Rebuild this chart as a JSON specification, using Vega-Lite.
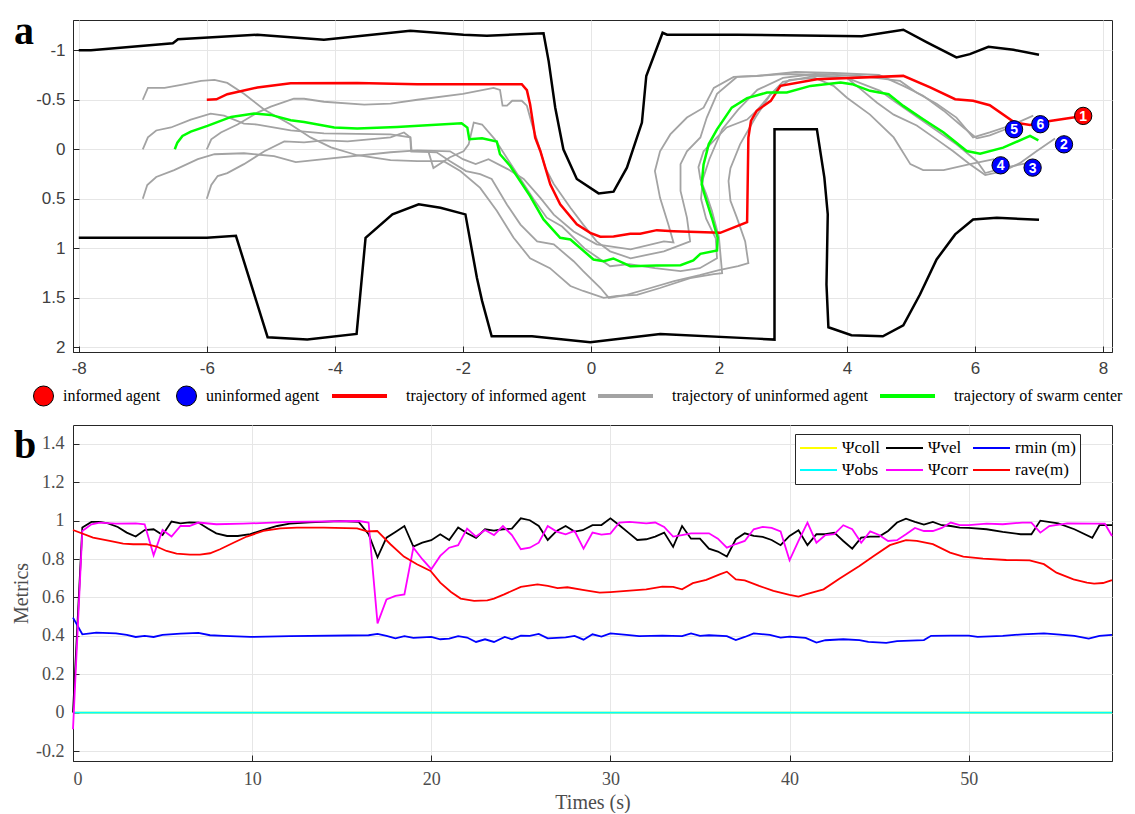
{
  "$schema": "https://vega.github.io/schema/vega-lite/v6.json",
  "background": "white",
  "padding": {"left": 11, "top": 11, "right": 0, "bottom": 0},
  "spacing": 73,
  "bounds": "flush",
  "config": {
    "font": "Liberation Sans",
    "view": {"stroke": "#262626", "strokeWidth": 1}
  },
  "datasets": {
    "walls": [
      {"g":"top","x":-8,"y":-1.0},{"g":"top","x":-7.81,"y":-1.0},{"g":"top","x":-6.53,"y":-1.07},{"g":"top","x":-6.45,"y":-1.11},{"g":"top","x":-5.21,"y":-1.156},{"g":"top","x":-4.17,"y":-1.105},{"g":"top","x":-2.82,"y":-1.197},{"g":"top","x":-1.99,"y":-1.156},{"g":"top","x":-1.625,"y":-1.146},{"g":"top","x":-0.74,"y":-1.17},{"g":"top","x":-0.66,"y":-0.89},{"g":"top","x":-0.557,"y":-0.42},{"g":"top","x":-0.43,"y":0},{"g":"top","x":-0.22,"y":0.3},{"g":"top","x":0.12,"y":0.445},{"g":"top","x":0.354,"y":0.428},{"g":"top","x":0.5625,"y":0.185},{"g":"top","x":0.797,"y":-0.27},{"g":"top","x":0.865,"y":-0.74},{"g":"top","x":1.12,"y":-1.176},{"g":"top","x":1.19,"y":-1.156},{"g":"top","x":2.286,"y":-1.156},{"g":"top","x":4.23,"y":-1.14},{"g":"top","x":4.88,"y":-1.207},{"g":"top","x":5.25,"y":-1.08},{"g":"top","x":5.71,"y":-0.927},{"g":"top","x":5.92,"y":-0.96},{"g":"top","x":6.21,"y":-1.035},{"g":"top","x":6.6,"y":-1.004},{"g":"top","x":7.0,"y":-0.954},
      {"g":"bot","x":-8,"y":0.893},{"g":"bot","x":-6,"y":0.893},{"g":"bot","x":-5.545,"y":0.873},{"g":"bot","x":-5.05,"y":1.897},{"g":"bot","x":-4.43,"y":1.921},{"g":"bot","x":-3.66,"y":1.864},{"g":"bot","x":-3.52,"y":0.893},{"g":"bot","x":-3.1,"y":0.657},{"g":"bot","x":-2.69,"y":0.556},{"g":"bot","x":-2.35,"y":0.59},{"g":"bot","x":-1.96,"y":0.657},{"g":"bot","x":-1.78,"y":1.3},{"g":"bot","x":-1.7,"y":1.53},{"g":"bot","x":-1.55,"y":1.887},{"g":"bot","x":-0.92,"y":1.887},{"g":"bot","x":-0.01,"y":1.948},{"g":"bot","x":1.083,"y":1.864},{"g":"bot","x":2.59,"y":1.911},{"g":"bot","x":2.868,"y":1.921},{"g":"bot","x":2.868,"y":-0.202},{"g":"bot","x":3.53,"y":-0.202},{"g":"bot","x":3.647,"y":0.286},{"g":"bot","x":3.7,"y":0.657},{"g":"bot","x":3.68,"y":1.365},{"g":"bot","x":3.71,"y":1.796},{"g":"bot","x":4.07,"y":1.877},{"g":"bot","x":4.56,"y":1.887},{"g":"bot","x":4.88,"y":1.776},{"g":"bot","x":5.14,"y":1.466},{"g":"bot","x":5.4,"y":1.112},{"g":"bot","x":5.69,"y":0.859},{"g":"bot","x":5.97,"y":0.708},{"g":"bot","x":6.34,"y":0.691},{"g":"bot","x":7.0,"y":0.711}
    ],
    "gray": [
      {"g":"u4","x":-7,"y":-0.5},{"g":"u4","x":-6.92,"y":-0.62},{"g":"u4","x":-6.66,"y":-0.62},{"g":"u4","x":-6.4,"y":-0.65},{"g":"u4","x":-6.09,"y":-0.69},{"g":"u4","x":-5.88,"y":-0.7},{"g":"u4","x":-5.68,"y":-0.67},{"g":"u4","x":-5.42,"y":-0.56},{"g":"u4","x":-5.1,"y":-0.4},{"g":"u4","x":-4.69,"y":-0.25},{"g":"u4","x":-4.38,"y":-0.12},{"g":"u4","x":-4.06,"y":-0.02},{"g":"u4","x":-3.65,"y":0.06},{"g":"u4","x":-3.13,"y":0.11},{"g":"u4","x":-2.71,"y":0.12},{"g":"u4","x":-2.3,"y":0.12},{"g":"u4","x":-2.04,"y":0.22},{"g":"u4","x":-1.73,"y":0.39},{"g":"u4","x":-1.47,"y":0.62},{"g":"u4","x":-1.21,"y":0.89},{"g":"u4","x":-0.95,"y":1.1},{"g":"u4","x":-0.64,"y":1.2},{"g":"u4","x":-0.32,"y":1.38},{"g":"u4","x":-0.12,"y":1.43},{"g":"u4","x":0.2,"y":1.5},{"g":"u4","x":0.41,"y":1.48},{"g":"u4","x":0.72,"y":1.47},{"g":"u4","x":1.08,"y":1.4},{"g":"u4","x":1.55,"y":1.3},{"g":"u4","x":1.92,"y":1.26},{"g":"u4","x":2.05,"y":1.25},{"g":"u4","x":2.0,"y":0.89},{"g":"u4","x":1.89,"y":0.62},{"g":"u4","x":1.8,"y":0.45},{"g":"u4","x":1.71,"y":0.3},{"g":"u4","x":1.68,"y":0.18},{"g":"u4","x":1.76,"y":0.02},{"g":"u4","x":1.97,"y":-0.12},{"g":"u4","x":2.12,"y":-0.22},{"g":"u4","x":2.44,"y":-0.3},{"g":"u4","x":2.59,"y":-0.39},{"g":"u4","x":2.8,"y":-0.55},{"g":"u4","x":3.1,"y":-0.7},{"g":"u4","x":3.5,"y":-0.72},{"g":"u4","x":3.79,"y":-0.64},{"g":"u4","x":4.0,"y":-0.52},{"g":"u4","x":4.36,"y":-0.35},{"g":"u4","x":4.73,"y":-0.12},{"g":"u4","x":4.99,"y":0.15},{"g":"u4","x":5.19,"y":0.21},{"g":"u4","x":5.51,"y":0.21},{"g":"u4","x":5.92,"y":0.15},{"g":"u4","x":6.3,"y":0.1},
      {"g":"u2","x":-7,"y":0},{"g":"u2","x":-6.92,"y":-0.12},{"g":"u2","x":-6.79,"y":-0.19},{"g":"u2","x":-6.56,"y":-0.22},{"g":"u2","x":-6.25,"y":-0.3},{"g":"u2","x":-5.94,"y":-0.36},{"g":"u2","x":-5.73,"y":-0.34},{"g":"u2","x":-5.42,"y":-0.26},{"g":"u2","x":-5.21,"y":-0.25},{"g":"u2","x":-4.69,"y":-0.19},{"g":"u2","x":-4.17,"y":-0.16},{"g":"u2","x":-3.13,"y":-0.15},{"g":"u2","x":-2.82,"y":-0.12},{"g":"u2","x":-2.8,"y":0.02},{"g":"u2","x":-2.41,"y":0.03},{"g":"u2","x":-2.2,"y":0.12},{"g":"u2","x":-1.95,"y":0.22},{"g":"u2","x":-1.73,"y":0.25},{"g":"u2","x":-1.55,"y":0.3},{"g":"u2","x":-1.31,"y":0.56},{"g":"u2","x":-1.1,"y":0.76},{"g":"u2","x":-0.84,"y":0.93},{"g":"u2","x":-0.58,"y":0.96},{"g":"u2","x":-0.27,"y":1.13},{"g":"u2","x":-0.12,"y":1.23},{"g":"u2","x":0.15,"y":1.4},{"g":"u2","x":0.28,"y":1.5},{"g":"u2","x":0.56,"y":1.47},{"g":"u2","x":0.93,"y":1.4},{"g":"u2","x":1.3,"y":1.33},{"g":"u2","x":1.7,"y":1.27},{"g":"u2","x":2.0,"y":1.22},{"g":"u2","x":2.3,"y":1.18},{"g":"u2","x":2.46,"y":1.15},{"g":"u2","x":2.41,"y":0.93},{"g":"u2","x":2.28,"y":0.69},{"g":"u2","x":2.18,"y":0.52},{"g":"u2","x":2.15,"y":0.32},{"g":"u2","x":2.18,"y":0.19},{"g":"u2","x":2.33,"y":-0.05},{"g":"u2","x":2.57,"y":-0.32},{"g":"u2","x":2.8,"y":-0.55},{"g":"u2","x":3.0,"y":-0.68},{"g":"u2","x":3.5,"y":-0.74},{"g":"u2","x":4.0,"y":-0.72},{"g":"u2","x":4.21,"y":-0.61},{"g":"u2","x":4.47,"y":-0.47},{"g":"u2","x":4.73,"y":-0.35},{"g":"u2","x":5.09,"y":-0.24},{"g":"u2","x":5.4,"y":-0.1},{"g":"u2","x":5.66,"y":0.02},{"g":"u2","x":5.92,"y":0.15},{"g":"u2","x":6.16,"y":0.26},{"g":"u2","x":6.44,"y":0.22},{"g":"u2","x":6.7,"y":0.14},{"g":"u2","x":6.96,"y":0.02},{"g":"u2","x":7.25,"y":-0.11},
      {"g":"u3","x":-7,"y":0.5},{"g":"u3","x":-6.93,"y":0.36},{"g":"u3","x":-6.79,"y":0.28},{"g":"u3","x":-6.51,"y":0.21},{"g":"u3","x":-6.14,"y":0.1},{"g":"u3","x":-5.88,"y":0.05},{"g":"u3","x":-5.42,"y":0.04},{"g":"u3","x":-4.95,"y":0.07},{"g":"u3","x":-4.61,"y":0.13},{"g":"u3","x":-4.17,"y":0.1},{"g":"u3","x":-3.13,"y":0.03},{"g":"u3","x":-2.71,"y":0.01},{"g":"u3","x":-2.2,"y":0.02},{"g":"u3","x":-2.0,"y":0.1},{"g":"u3","x":-1.8,"y":0.15},{"g":"u3","x":-1.6,"y":0.1},{"g":"u3","x":-1.3,"y":0.2},{"g":"u3","x":-1.05,"y":0.3},{"g":"u3","x":-0.79,"y":0.49},{"g":"u3","x":-0.58,"y":0.66},{"g":"u3","x":-0.27,"y":0.83},{"g":"u3","x":0.09,"y":0.96},{"g":"u3","x":0.62,"y":1.01},{"g":"u3","x":1.14,"y":0.93},{"g":"u3","x":1.29,"y":0.94},{"g":"u3","x":1.21,"y":0.76},{"g":"u3","x":1.08,"y":0.49},{"g":"u3","x":1.0,"y":0.22},{"g":"u3","x":1.08,"y":0.02},{"g":"u3","x":1.24,"y":-0.15},{"g":"u3","x":1.5,"y":-0.32},{"g":"u3","x":1.76,"y":-0.42},{"g":"u3","x":1.92,"y":-0.62},{"g":"u3","x":2.23,"y":-0.73},{"g":"u3","x":2.59,"y":-0.74},{"g":"u3","x":3.0,"y":-0.76},{"g":"u3","x":3.5,"y":-0.75},{"g":"u3","x":4.0,"y":-0.72},{"g":"u3","x":4.52,"y":-0.59},{"g":"u3","x":4.73,"y":-0.49},{"g":"u3","x":5.04,"y":-0.35},{"g":"u3","x":5.4,"y":-0.19},{"g":"u3","x":5.71,"y":-0.05},{"g":"u3","x":6.03,"y":0.12},{"g":"u3","x":6.16,"y":0.24},{"g":"u3","x":6.44,"y":0.19},{"g":"u3","x":6.81,"y":0.14},
      {"g":"u5","x":-6,"y":0},{"g":"u5","x":-5.93,"y":-0.1},{"g":"u5","x":-5.78,"y":-0.17},{"g":"u5","x":-5.52,"y":-0.25},{"g":"u5","x":-5.21,"y":-0.37},{"g":"u5","x":-5.0,"y":-0.43},{"g":"u5","x":-4.64,"y":-0.51},{"g":"u5","x":-4.48,"y":-0.51},{"g":"u5","x":-4.17,"y":-0.48},{"g":"u5","x":-3.54,"y":-0.45},{"g":"u5","x":-3.13,"y":-0.46},{"g":"u5","x":-2.71,"y":-0.5},{"g":"u5","x":-2.0,"y":-0.56},{"g":"u5","x":-1.52,"y":-0.62},{"g":"u5","x":-1.42,"y":-0.6},{"g":"u5","x":-1.38,"y":-0.44},{"g":"u5","x":-1.31,"y":-0.44},{"g":"u5","x":-1.23,"y":-0.49},{"g":"u5","x":-1.08,"y":-0.49},{"g":"u5","x":-1.0,"y":-0.44},{"g":"u5","x":-0.92,"y":-0.25},{"g":"u5","x":-0.82,"y":-0.05},{"g":"u5","x":-0.71,"y":0.19},{"g":"u5","x":-0.58,"y":0.35},{"g":"u5","x":-0.32,"y":0.59},{"g":"u5","x":-0.12,"y":0.76},{"g":"u5","x":0.09,"y":0.93},{"g":"u5","x":0.3,"y":1.03},{"g":"u5","x":0.62,"y":1.1},{"g":"u5","x":1.14,"y":1.03},{"g":"u5","x":1.55,"y":0.93},{"g":"u5","x":1.5,"y":0.69},{"g":"u5","x":1.4,"y":0.42},{"g":"u5","x":1.4,"y":0.15},{"g":"u5","x":1.5,"y":0.02},{"g":"u5","x":1.71,"y":-0.12},{"g":"u5","x":1.81,"y":-0.32},{"g":"u5","x":1.97,"y":-0.56},{"g":"u5","x":2.28,"y":-0.73},{"g":"u5","x":2.59,"y":-0.74},{"g":"u5","x":3.2,"y":-0.78},{"g":"u5","x":3.8,"y":-0.77},{"g":"u5","x":4.5,"y":-0.75},{"g":"u5","x":4.88,"y":-0.64},{"g":"u5","x":5.19,"y":-0.54},{"g":"u5","x":5.51,"y":-0.39},{"g":"u5","x":5.82,"y":-0.22},{"g":"u5","x":6.03,"y":-0.11},{"g":"u5","x":6.23,"y":-0.14},{"g":"u5","x":6.55,"y":-0.22},
      {"g":"u6","x":-6,"y":0.5},{"g":"u6","x":-5.93,"y":0.36},{"g":"u6","x":-5.83,"y":0.27},{"g":"u6","x":-5.68,"y":0.24},{"g":"u6","x":-5.42,"y":0.15},{"g":"u6","x":-5.1,"y":0.02},{"g":"u6","x":-4.79,"y":-0.08},{"g":"u6","x":-4.48,"y":-0.07},{"g":"u6","x":-4.17,"y":-0.09},{"g":"u6","x":-3.8,"y":-0.08},{"g":"u6","x":-3.13,"y":-0.12},{"g":"u6","x":-2.92,"y":-0.17},{"g":"u6","x":-2.82,"y":-0.12},{"g":"u6","x":-2.81,"y":0.02},{"g":"u6","x":-2.54,"y":0.02},{"g":"u6","x":-2.46,"y":0.19},{"g":"u6","x":-2.2,"y":0.08},{"g":"u6","x":-1.99,"y":0.02},{"g":"u6","x":-1.91,"y":-0.05},{"g":"u6","x":-1.83,"y":-0.27},{"g":"u6","x":-1.7,"y":-0.25},{"g":"u6","x":-1.5,"y":-0.1},{"g":"u6","x":-1.3,"y":0.1},{"g":"u6","x":-1.1,"y":0.3},{"g":"u6","x":-0.9,"y":0.5},{"g":"u6","x":-0.69,"y":0.69},{"g":"u6","x":-0.45,"y":0.78},{"g":"u6","x":-0.1,"y":1.0},{"g":"u6","x":0.3,"y":1.18},{"g":"u6","x":0.6,"y":1.16},{"g":"u6","x":1.0,"y":1.2},{"g":"u6","x":1.4,"y":1.23},{"g":"u6","x":1.7,"y":1.2},{"g":"u6","x":1.97,"y":1.1},{"g":"u6","x":1.95,"y":0.9},{"g":"u6","x":1.8,"y":0.7},{"g":"u6","x":1.72,"y":0.5},{"g":"u6","x":1.75,"y":0.3},{"g":"u6","x":1.85,"y":0.1},{"g":"u6","x":2.05,"y":-0.2},{"g":"u6","x":2.3,"y":-0.4},{"g":"u6","x":2.6,"y":-0.6},{"g":"u6","x":3.0,"y":-0.72},{"g":"u6","x":3.5,"y":-0.76},{"g":"u6","x":4.2,"y":-0.74},{"g":"u6","x":4.83,"y":-0.69},{"g":"u6","x":5.09,"y":-0.57},{"g":"u6","x":5.4,"y":-0.46},{"g":"u6","x":5.71,"y":-0.32},{"g":"u6","x":5.97,"y":-0.12},{"g":"u6","x":6.23,"y":-0.17},{"g":"u6","x":6.6,"y":-0.25},{"g":"u6","x":6.91,"y":-0.34}
    ],
    "red": [
      {"x":-6,"y":-0.5},{"x":-5.85,"y":-0.505},{"x":-5.68,"y":-0.556},{"x":-5.21,"y":-0.624},{"x":-4.69,"y":-0.667},{"x":-3.65,"y":-0.67},{"x":-2.71,"y":-0.657},{"x":-1.08,"y":-0.657},{"x":-1.0,"y":-0.597},{"x":-0.95,"y":-0.455},{"x":-0.87,"y":-0.118},{"x":-0.79,"y":0.017},{"x":-0.635,"y":0.354},{"x":-0.48,"y":0.556},{"x":-0.22,"y":0.758},{"x":-0.01,"y":0.843},{"x":0.146,"y":0.883},{"x":0.354,"y":0.88},{"x":0.615,"y":0.853},{"x":0.77,"y":0.853},{"x":1.03,"y":0.816},{"x":1.29,"y":0.826},{"x":1.66,"y":0.836},{"x":2.02,"y":0.843},{"x":2.44,"y":0.735},{"x":2.46,"y":-0.118},{"x":2.5,"y":-0.286},{"x":2.59,"y":-0.388},{"x":2.81,"y":-0.489},{"x":2.96,"y":-0.64},{"x":3.53,"y":-0.708},{"x":4.88,"y":-0.741},{"x":5.3,"y":-0.624},{"x":5.69,"y":-0.506},{"x":5.97,"y":-0.489},{"x":6.23,"y":-0.445},{"x":6.62,"y":-0.27},{"x":6.86,"y":-0.246},{"x":7.17,"y":-0.286},{"x":7.69,"y":-0.337}
    ],
    "green": [
      {"x":-6.5,"y":0},{"x":-6.46,"y":-0.067},{"x":-6.38,"y":-0.135},{"x":-6.25,"y":-0.179},{"x":-5.99,"y":-0.236},{"x":-5.62,"y":-0.327},{"x":-5.26,"y":-0.36},{"x":-5.0,"y":-0.347},{"x":-4.69,"y":-0.293},{"x":-4.48,"y":-0.276},{"x":-4.01,"y":-0.219},{"x":-3.65,"y":-0.209},{"x":-3.03,"y":-0.226},{"x":-2.02,"y":-0.263},{"x":-1.93,"y":-0.219},{"x":-1.9,"y":-0.101},{"x":-1.7,"y":-0.111},{"x":-1.47,"y":-0.078},{"x":-1.42,"y":0.05},{"x":-1.26,"y":0.169},{"x":-0.95,"y":0.472},{"x":-0.74,"y":0.708},{"x":-0.48,"y":0.893},{"x":-0.32,"y":0.91},{"x":0.04,"y":1.112},{"x":0.2,"y":1.129},{"x":0.35,"y":1.102},{"x":0.615,"y":1.18},{"x":1.03,"y":1.173},{"x":1.4,"y":1.17},{"x":1.6,"y":1.122},{"x":1.71,"y":1.055},{"x":1.97,"y":1.021},{"x":1.98,"y":0.893},{"x":1.89,"y":0.691},{"x":1.79,"y":0.489},{"x":1.73,"y":0.354},{"x":1.76,"y":0.152},{"x":1.84,"y":-0.05},{"x":1.97,"y":-0.202},{"x":2.2,"y":-0.421},{"x":2.44,"y":-0.516},{"x":2.75,"y":-0.573},{"x":3.06,"y":-0.573},{"x":3.43,"y":-0.64},{"x":3.9,"y":-0.674},{"x":4.08,"y":-0.657},{"x":4.36,"y":-0.59},{"x":4.65,"y":-0.556},{"x":4.88,"y":-0.438},{"x":5.19,"y":-0.303},{"x":5.51,"y":-0.169},{"x":5.87,"y":0.017},{"x":6.08,"y":0.044},{"x":6.44,"y":-0.017},{"x":6.86,"y":-0.135},{"x":6.99,"y":-0.091}
    ],
    "agents": [
      {"n":"1","t":"informed agent","x":7.69,"y":-0.337},
      {"n":"2","t":"uninformed agent","x":7.39,"y":-0.05},
      {"n":"3","t":"uninformed agent","x":6.9,"y":0.185},
      {"n":"4","t":"uninformed agent","x":6.4,"y":0.162},
      {"n":"5","t":"uninformed agent","x":6.61,"y":-0.202},
      {"n":"6","t":"uninformed agent","x":7.02,"y":-0.253}
    ],
    "metrics": [
      {"s":"Ψcoll","t":0,"v":0},{"s":"Ψcoll","t":58,"v":0},
      {"s":"Ψvel","t":0,"v":0},{"s":"Ψvel","t":0.52,"v":0.964},{"s":"Ψvel","t":1.03,"v":0.993},{"s":"Ψvel","t":1.5,"v":0.993},{"s":"Ψvel","t":1.96,"v":0.986},{"s":"Ψvel","t":2.5,"v":0.967},{"s":"Ψvel","t":3.0,"v":0.9375},{"s":"Ψvel","t":3.5,"v":0.917},{"s":"Ψvel","t":4.0,"v":0.951},{"s":"Ψvel","t":4.5,"v":0.955},{"s":"Ψvel","t":5.0,"v":0.925},{"s":"Ψvel","t":5.5,"v":0.995},{"s":"Ψvel","t":6.0,"v":0.986},{"s":"Ψvel","t":6.5,"v":0.991},{"s":"Ψvel","t":7.0,"v":0.99},{"s":"Ψvel","t":7.55,"v":0.958},{"s":"Ψvel","t":8.0,"v":0.934},{"s":"Ψvel","t":8.6,"v":0.92},{"s":"Ψvel","t":9.2,"v":0.92},{"s":"Ψvel","t":9.9,"v":0.93},{"s":"Ψvel","t":10.6,"v":0.951},{"s":"Ψvel","t":11.4,"v":0.972},{"s":"Ψvel","t":12.1,"v":0.984},{"s":"Ψvel","t":13.2,"v":0.991},{"s":"Ψvel","t":14.9,"v":0.997},{"s":"Ψvel","t":15.95,"v":0.993},{"s":"Ψvel","t":16.5,"v":0.929},{"s":"Ψvel","t":17.0,"v":0.809},{"s":"Ψvel","t":17.5,"v":0.911},{"s":"Ψvel","t":18.0,"v":0.941},{"s":"Ψvel","t":18.5,"v":0.972},{"s":"Ψvel","t":19.0,"v":0.865},{"s":"Ψvel","t":19.5,"v":0.885},{"s":"Ψvel","t":20.0,"v":0.898},{"s":"Ψvel","t":20.5,"v":0.929},{"s":"Ψvel","t":21.0,"v":0.899},{"s":"Ψvel","t":21.5,"v":0.964},{"s":"Ψvel","t":22.0,"v":0.934},{"s":"Ψvel","t":22.5,"v":0.91},{"s":"Ψvel","t":23.0,"v":0.955},{"s":"Ψvel","t":23.5,"v":0.948},{"s":"Ψvel","t":24.0,"v":0.955},{"s":"Ψvel","t":24.5,"v":0.958},{"s":"Ψvel","t":25.0,"v":1.012},{"s":"Ψvel","t":25.5,"v":1.002},{"s":"Ψvel","t":26.0,"v":0.972},{"s":"Ψvel","t":26.5,"v":0.899},{"s":"Ψvel","t":27.0,"v":0.946},{"s":"Ψvel","t":27.5,"v":0.972},{"s":"Ψvel","t":28.0,"v":0.943},{"s":"Ψvel","t":28.45,"v":0.95},{"s":"Ψvel","t":29.0,"v":0.976},{"s":"Ψvel","t":29.5,"v":0.977},{"s":"Ψvel","t":30.0,"v":1.012},{"s":"Ψvel","t":30.5,"v":0.976},{"s":"Ψvel","t":31.0,"v":0.9375},{"s":"Ψvel","t":31.5,"v":0.899},{"s":"Ψvel","t":32.0,"v":0.903},{"s":"Ψvel","t":32.5,"v":0.917},{"s":"Ψvel","t":33.0,"v":0.9375},{"s":"Ψvel","t":33.5,"v":0.863},{"s":"Ψvel","t":34.0,"v":0.972},{"s":"Ψvel","t":34.5,"v":0.906},{"s":"Ψvel","t":35.0,"v":0.906},{"s":"Ψvel","t":35.5,"v":0.854},{"s":"Ψvel","t":36.0,"v":0.839},{"s":"Ψvel","t":36.5,"v":0.8125},{"s":"Ψvel","t":37.0,"v":0.903},{"s":"Ψvel","t":37.5,"v":0.934},{"s":"Ψvel","t":38.0,"v":0.92},{"s":"Ψvel","t":38.5,"v":0.915},{"s":"Ψvel","t":39.0,"v":0.899},{"s":"Ψvel","t":39.5,"v":0.872},{"s":"Ψvel","t":40.0,"v":0.92},{"s":"Ψvel","t":40.5,"v":0.95},{"s":"Ψvel","t":41.0,"v":0.872},{"s":"Ψvel","t":41.5,"v":0.929},{"s":"Ψvel","t":42.0,"v":0.929},{"s":"Ψvel","t":42.5,"v":0.9375},{"s":"Ψvel","t":43.0,"v":0.894},{"s":"Ψvel","t":43.5,"v":0.854},{"s":"Ψvel","t":44.0,"v":0.911},{"s":"Ψvel","t":44.5,"v":0.917},{"s":"Ψvel","t":45.0,"v":0.917},{"s":"Ψvel","t":45.5,"v":0.946},{"s":"Ψvel","t":46.0,"v":0.99},{"s":"Ψvel","t":46.5,"v":1.01},{"s":"Ψvel","t":47.0,"v":0.993},{"s":"Ψvel","t":47.5,"v":0.979},{"s":"Ψvel","t":48.0,"v":0.993},{"s":"Ψvel","t":48.5,"v":0.976},{"s":"Ψvel","t":49.0,"v":0.972},{"s":"Ψvel","t":49.5,"v":0.964},{"s":"Ψvel","t":50.0,"v":0.962},{"s":"Ψvel","t":51.0,"v":0.955},{"s":"Ψvel","t":51.9,"v":0.941},{"s":"Ψvel","t":52.9,"v":0.929},{"s":"Ψvel","t":53.5,"v":0.929},{"s":"Ψvel","t":54.0,"v":1.0},{"s":"Ψvel","t":55.0,"v":0.986},{"s":"Ψvel","t":55.9,"v":0.955},{"s":"Ψvel","t":56.9,"v":0.91},{"s":"Ψvel","t":57.3,"v":0.976},{"s":"Ψvel","t":58,"v":0.976},
      {"s":"rmin (m)","t":0,"v":0.495},{"s":"rmin (m)","t":0.52,"v":0.408},{"s":"rmin (m)","t":1.3,"v":0.417},{"s":"rmin (m)","t":2.4,"v":0.413},{"s":"rmin (m)","t":3.0,"v":0.405},{"s":"rmin (m)","t":3.5,"v":0.394},{"s":"rmin (m)","t":4.0,"v":0.4},{"s":"rmin (m)","t":4.5,"v":0.394},{"s":"rmin (m)","t":5.0,"v":0.405},{"s":"rmin (m)","t":6.0,"v":0.411},{"s":"rmin (m)","t":7.0,"v":0.415},{"s":"rmin (m)","t":7.65,"v":0.403},{"s":"rmin (m)","t":8.4,"v":0.4},{"s":"rmin (m)","t":9.9,"v":0.394},{"s":"rmin (m)","t":12.1,"v":0.398},{"s":"rmin (m)","t":16.5,"v":0.403},{"s":"rmin (m)","t":17.0,"v":0.41},{"s":"rmin (m)","t":17.5,"v":0.4},{"s":"rmin (m)","t":18.0,"v":0.387},{"s":"rmin (m)","t":18.5,"v":0.398},{"s":"rmin (m)","t":19.0,"v":0.389},{"s":"rmin (m)","t":20.0,"v":0.394},{"s":"rmin (m)","t":20.5,"v":0.382},{"s":"rmin (m)","t":21.0,"v":0.385},{"s":"rmin (m)","t":21.5,"v":0.398},{"s":"rmin (m)","t":22.0,"v":0.391},{"s":"rmin (m)","t":22.5,"v":0.368},{"s":"rmin (m)","t":23.0,"v":0.382},{"s":"rmin (m)","t":23.5,"v":0.368},{"s":"rmin (m)","t":24.1,"v":0.394},{"s":"rmin (m)","t":24.5,"v":0.382},{"s":"rmin (m)","t":25.0,"v":0.401},{"s":"rmin (m)","t":25.5,"v":0.4},{"s":"rmin (m)","t":26.0,"v":0.41},{"s":"rmin (m)","t":26.5,"v":0.387},{"s":"rmin (m)","t":27.5,"v":0.392},{"s":"rmin (m)","t":28.0,"v":0.4},{"s":"rmin (m)","t":28.5,"v":0.38},{"s":"rmin (m)","t":29.0,"v":0.408},{"s":"rmin (m)","t":29.5,"v":0.396},{"s":"rmin (m)","t":30.0,"v":0.413},{"s":"rmin (m)","t":30.9,"v":0.405},{"s":"rmin (m)","t":31.6,"v":0.398},{"s":"rmin (m)","t":32.9,"v":0.401},{"s":"rmin (m)","t":34.0,"v":0.398},{"s":"rmin (m)","t":34.5,"v":0.413},{"s":"rmin (m)","t":35.0,"v":0.4},{"s":"rmin (m)","t":35.5,"v":0.403},{"s":"rmin (m)","t":36.5,"v":0.398},{"s":"rmin (m)","t":37.0,"v":0.378},{"s":"rmin (m)","t":37.5,"v":0.394},{"s":"rmin (m)","t":38.0,"v":0.413},{"s":"rmin (m)","t":38.9,"v":0.405},{"s":"rmin (m)","t":39.5,"v":0.391},{"s":"rmin (m)","t":40.0,"v":0.396},{"s":"rmin (m)","t":40.9,"v":0.389},{"s":"rmin (m)","t":41.5,"v":0.365},{"s":"rmin (m)","t":42.0,"v":0.377},{"s":"rmin (m)","t":43.0,"v":0.382},{"s":"rmin (m)","t":43.9,"v":0.378},{"s":"rmin (m)","t":44.4,"v":0.368},{"s":"rmin (m)","t":45.4,"v":0.363},{"s":"rmin (m)","t":46.0,"v":0.372},{"s":"rmin (m)","t":47.5,"v":0.378},{"s":"rmin (m)","t":47.9,"v":0.4},{"s":"rmin (m)","t":49.0,"v":0.401},{"s":"rmin (m)","t":50.0,"v":0.401},{"s":"rmin (m)","t":50.5,"v":0.394},{"s":"rmin (m)","t":51.9,"v":0.4},{"s":"rmin (m)","t":53.0,"v":0.408},{"s":"rmin (m)","t":54.2,"v":0.413},{"s":"rmin (m)","t":55.1,"v":0.406},{"s":"rmin (m)","t":55.9,"v":0.4},{"s":"rmin (m)","t":56.7,"v":0.385},{"s":"rmin (m)","t":57.3,"v":0.4},{"s":"rmin (m)","t":58,"v":0.405},
      {"s":"Ψobs","t":0,"v":0},{"s":"Ψobs","t":58,"v":0},
      {"s":"Ψcorr","t":0,"v":-0.087},{"s":"Ψcorr","t":0.52,"v":0.946},{"s":"Ψcorr","t":1.03,"v":0.981},{"s":"Ψcorr","t":1.5,"v":0.99},{"s":"Ψcorr","t":2.4,"v":0.984},{"s":"Ψcorr","t":3.5,"v":0.986},{"s":"Ψcorr","t":4.0,"v":0.981},{"s":"Ψcorr","t":4.5,"v":0.819},{"s":"Ψcorr","t":5.0,"v":0.951},{"s":"Ψcorr","t":5.5,"v":0.917},{"s":"Ψcorr","t":6.0,"v":0.972},{"s":"Ψcorr","t":6.5,"v":0.972},{"s":"Ψcorr","t":7.0,"v":0.99},{"s":"Ψcorr","t":8.0,"v":0.981},{"s":"Ψcorr","t":9.5,"v":0.984},{"s":"Ψcorr","t":12.1,"v":0.993},{"s":"Ψcorr","t":15.95,"v":0.998},{"s":"Ψcorr","t":16.5,"v":0.99},{"s":"Ψcorr","t":17.0,"v":0.465},{"s":"Ψcorr","t":17.5,"v":0.59},{"s":"Ψcorr","t":18.0,"v":0.608},{"s":"Ψcorr","t":18.5,"v":0.616},{"s":"Ψcorr","t":19.0,"v":0.859},{"s":"Ψcorr","t":19.5,"v":0.799},{"s":"Ψcorr","t":20.0,"v":0.747},{"s":"Ψcorr","t":20.5,"v":0.816},{"s":"Ψcorr","t":21.0,"v":0.859},{"s":"Ψcorr","t":21.5,"v":0.872},{"s":"Ψcorr","t":22.0,"v":0.958},{"s":"Ψcorr","t":22.5,"v":0.917},{"s":"Ψcorr","t":23.0,"v":0.951},{"s":"Ψcorr","t":23.5,"v":0.925},{"s":"Ψcorr","t":24.0,"v":0.972},{"s":"Ψcorr","t":24.5,"v":0.925},{"s":"Ψcorr","t":25.0,"v":0.851},{"s":"Ψcorr","t":25.5,"v":0.859},{"s":"Ψcorr","t":26.0,"v":0.885},{"s":"Ψcorr","t":26.5,"v":0.972},{"s":"Ψcorr","t":27.0,"v":0.943},{"s":"Ψcorr","t":27.5,"v":0.929},{"s":"Ψcorr","t":28.0,"v":0.946},{"s":"Ψcorr","t":28.5,"v":0.854},{"s":"Ψcorr","t":29.0,"v":0.9375},{"s":"Ψcorr","t":29.5,"v":0.927},{"s":"Ψcorr","t":30.0,"v":0.932},{"s":"Ψcorr","t":30.5,"v":0.99},{"s":"Ψcorr","t":31.06,"v":0.993},{"s":"Ψcorr","t":32.0,"v":0.986},{"s":"Ψcorr","t":32.5,"v":0.99},{"s":"Ψcorr","t":33.0,"v":0.967},{"s":"Ψcorr","t":33.5,"v":0.917},{"s":"Ψcorr","t":34.0,"v":0.925},{"s":"Ψcorr","t":34.5,"v":0.934},{"s":"Ψcorr","t":35.5,"v":0.934},{"s":"Ψcorr","t":36.0,"v":0.906},{"s":"Ψcorr","t":36.5,"v":0.859},{"s":"Ψcorr","t":37.0,"v":0.878},{"s":"Ψcorr","t":37.5,"v":0.894},{"s":"Ψcorr","t":38.0,"v":0.955},{"s":"Ψcorr","t":38.5,"v":0.967},{"s":"Ψcorr","t":39.0,"v":0.962},{"s":"Ψcorr","t":39.5,"v":0.944},{"s":"Ψcorr","t":40.0,"v":0.793},{"s":"Ψcorr","t":40.5,"v":0.894},{"s":"Ψcorr","t":41.0,"v":0.99},{"s":"Ψcorr","t":41.5,"v":0.885},{"s":"Ψcorr","t":42.0,"v":0.925},{"s":"Ψcorr","t":42.5,"v":0.929},{"s":"Ψcorr","t":43.0,"v":0.976},{"s":"Ψcorr","t":43.5,"v":0.955},{"s":"Ψcorr","t":44.0,"v":0.885},{"s":"Ψcorr","t":44.5,"v":0.944},{"s":"Ψcorr","t":45.0,"v":0.925},{"s":"Ψcorr","t":45.5,"v":0.894},{"s":"Ψcorr","t":46.0,"v":0.898},{"s":"Ψcorr","t":46.5,"v":0.929},{"s":"Ψcorr","t":47.0,"v":0.962},{"s":"Ψcorr","t":47.5,"v":0.946},{"s":"Ψcorr","t":48.0,"v":0.946},{"s":"Ψcorr","t":48.5,"v":0.962},{"s":"Ψcorr","t":49.0,"v":0.99},{"s":"Ψcorr","t":49.5,"v":0.976},{"s":"Ψcorr","t":50.0,"v":0.976},{"s":"Ψcorr","t":51.0,"v":0.984},{"s":"Ψcorr","t":51.9,"v":0.981},{"s":"Ψcorr","t":53.0,"v":0.99},{"s":"Ψcorr","t":53.5,"v":0.99},{"s":"Ψcorr","t":54.0,"v":0.9375},{"s":"Ψcorr","t":54.5,"v":0.972},{"s":"Ψcorr","t":55.5,"v":0.986},{"s":"Ψcorr","t":57.0,"v":0.984},{"s":"Ψcorr","t":57.6,"v":0.984},{"s":"Ψcorr","t":58,"v":0.92},
      {"s":"rave(m)","t":0,"v":0.951},{"s":"rave(m)","t":1.12,"v":0.911},{"s":"rave(m)","t":2.05,"v":0.894},{"s":"rave(m)","t":2.8,"v":0.88},{"s":"rave(m)","t":3.36,"v":0.877},{"s":"rave(m)","t":4.1,"v":0.877},{"s":"rave(m)","t":4.66,"v":0.865},{"s":"rave(m)","t":5.22,"v":0.842},{"s":"rave(m)","t":5.78,"v":0.828},{"s":"rave(m)","t":6.53,"v":0.823},{"s":"rave(m)","t":7.09,"v":0.823},{"s":"rave(m)","t":7.65,"v":0.83},{"s":"rave(m)","t":8.21,"v":0.851},{"s":"rave(m)","t":8.96,"v":0.885},{"s":"rave(m)","t":9.7,"v":0.917},{"s":"rave(m)","t":10.63,"v":0.946},{"s":"rave(m)","t":11.57,"v":0.96},{"s":"rave(m)","t":12.5,"v":0.964},{"s":"rave(m)","t":14.0,"v":0.964},{"s":"rave(m)","t":15.86,"v":0.96},{"s":"rave(m)","t":16.42,"v":0.944},{"s":"rave(m)","t":16.98,"v":0.946},{"s":"rave(m)","t":17.72,"v":0.877},{"s":"rave(m)","t":18.47,"v":0.8125},{"s":"rave(m)","t":19.2,"v":0.773},{"s":"rave(m)","t":19.96,"v":0.738},{"s":"rave(m)","t":20.5,"v":0.677},{"s":"rave(m)","t":21.1,"v":0.628},{"s":"rave(m)","t":21.64,"v":0.594},{"s":"rave(m)","t":22.39,"v":0.582},{"s":"rave(m)","t":23.13,"v":0.585},{"s":"rave(m)","t":23.5,"v":0.594},{"s":"rave(m)","t":24.07,"v":0.616},{"s":"rave(m)","t":25.0,"v":0.655},{"s":"rave(m)","t":25.93,"v":0.668},{"s":"rave(m)","t":26.5,"v":0.66},{"s":"rave(m)","t":27.05,"v":0.648},{"s":"rave(m)","t":27.6,"v":0.653},{"s":"rave(m)","t":28.45,"v":0.639},{"s":"rave(m)","t":29.4,"v":0.625},{"s":"rave(m)","t":30.0,"v":0.628},{"s":"rave(m)","t":30.9,"v":0.634},{"s":"rave(m)","t":32.0,"v":0.642},{"s":"rave(m)","t":32.9,"v":0.656},{"s":"rave(m)","t":33.5,"v":0.655},{"s":"rave(m)","t":34.0,"v":0.642},{"s":"rave(m)","t":34.6,"v":0.674},{"s":"rave(m)","t":35.35,"v":0.691},{"s":"rave(m)","t":36.1,"v":0.72},{"s":"rave(m)","t":36.5,"v":0.734},{"s":"rave(m)","t":37.0,"v":0.694},{"s":"rave(m)","t":37.5,"v":0.689},{"s":"rave(m)","t":38.3,"v":0.66},{"s":"rave(m)","t":39.1,"v":0.634},{"s":"rave(m)","t":40.0,"v":0.613},{"s":"rave(m)","t":40.5,"v":0.604},{"s":"rave(m)","t":40.9,"v":0.616},{"s":"rave(m)","t":41.9,"v":0.642},{"s":"rave(m)","t":42.8,"v":0.698},{"s":"rave(m)","t":43.9,"v":0.764},{"s":"rave(m)","t":44.7,"v":0.816},{"s":"rave(m)","t":45.6,"v":0.872},{"s":"rave(m)","t":46.5,"v":0.898},{"s":"rave(m)","t":47.1,"v":0.894},{"s":"rave(m)","t":48.0,"v":0.877},{"s":"rave(m)","t":48.96,"v":0.833},{"s":"rave(m)","t":49.7,"v":0.8125},{"s":"rave(m)","t":50.8,"v":0.802},{"s":"rave(m)","t":52.1,"v":0.795},{"s":"rave(m)","t":53.4,"v":0.793},{"s":"rave(m)","t":54.2,"v":0.773},{"s":"rave(m)","t":54.9,"v":0.729},{"s":"rave(m)","t":55.85,"v":0.694},{"s":"rave(m)","t":56.6,"v":0.677},{"s":"rave(m)","t":57.0,"v":0.672},{"s":"rave(m)","t":57.5,"v":0.675},{"s":"rave(m)","t":58,"v":0.69}
    ]
  },
  "vconcat": [
    {
      "width": 1039,
      "height": 332,
      "title": {"text": "a", "anchor": "start", "frame": "group", "orient": "top", "offset": 0, "dx": -59, "dy": 64, "baseline": "alphabetic", "font": "Liberation Serif", "fontSize": 40, "fontWeight": "bold", "color": "black"},
      "encoding": {
        "x": {"field": "x", "type": "quantitative", "scale": {"domain": [-8.09, 8.14], "nice": false, "zero": false},
          "axis": {"title": null, "values": [-8,-6,-4,-2,0,2,4,6,8], "format": "d", "labelExpr": "replace(datum.label, '−', '-')", "labelFont": "Liberation Sans", "labelFontSize": 17, "labelColor": "#404040", "gridColor": "#e6e6e6", "domainColor": "#262626", "tickColor": "#262626", "tickSize": -6, "labelPadding": 14}},
        "y": {"field": "y", "type": "quantitative", "scale": {"domain": [-1.305, 2.046], "nice": false, "zero": false, "reverse": true},
          "axis": {"title": null, "values": [-1,-0.5,0,0.5,1,1.5,2], "format": "~g", "labelExpr": "replace(datum.label, '−', '-')", "labelFont": "Liberation Sans", "labelFontSize": 17, "labelColor": "#404040", "gridColor": "#e6e6e6", "domainColor": "#262626", "tickColor": "#262626", "tickSize": -6, "labelPadding": 14}}
      },
      "layer": [
        {
          "data": {"name": "walls"},
          "mark": {"type": "line", "color": "black", "strokeWidth": 2.5},
          "encoding": {"detail": {"field": "g", "type": "nominal"}, "order": {"value": null}}
        },
        {
          "data": {"name": "gray"},
          "mark": {"type": "line", "strokeWidth": 1.8},
          "encoding": {
            "detail": {"field": "g", "type": "nominal"},
            "order": {"value": null},
            "stroke": {"datum": "trajectory of uninformed agent", "type": "nominal",
              "scale": {"domain": ["trajectory of informed agent", "trajectory of uninformed agent", "trajectory of swarm center"], "range": ["#ff0000", "#a3a3a3", "#00ff00"]},
              "legend": {"orient": "none", "legendX": 257, "legendY": 365, "direction": "horizontal", "title": null, "symbolType": "stroke", "symbolSize": 3025, "symbolStrokeWidth": 4, "labelFont": "Liberation Serif", "labelFontSize": 16, "labelColor": "black", "labelLimit": 0, "labelOffset": 17, "columnPadding": 10, "clipHeight": 22, "padding": 0}}
          }
        },
        {
          "data": {"name": "red"},
          "mark": {"type": "line", "strokeWidth": 2.5},
          "encoding": {
            "order": {"value": null},
            "stroke": {"datum": "trajectory of informed agent", "type": "nominal",
              "scale": {"domain": ["trajectory of informed agent", "trajectory of uninformed agent", "trajectory of swarm center"], "range": ["#ff0000", "#a3a3a3", "#00ff00"]},
              "legend": {"orient": "none", "legendX": 257, "legendY": 365, "direction": "horizontal", "title": null, "symbolType": "stroke", "symbolSize": 3025, "symbolStrokeWidth": 4, "labelFont": "Liberation Serif", "labelFontSize": 16, "labelColor": "black", "labelLimit": 0, "labelOffset": 17, "columnPadding": 10, "clipHeight": 22, "padding": 0}}
          }
        },
        {
          "data": {"name": "green"},
          "mark": {"type": "line", "strokeWidth": 2.5},
          "encoding": {
            "order": {"value": null},
            "stroke": {"datum": "trajectory of swarm center", "type": "nominal",
              "scale": {"domain": ["trajectory of informed agent", "trajectory of uninformed agent", "trajectory of swarm center"], "range": ["#ff0000", "#a3a3a3", "#00ff00"]},
              "legend": {"orient": "none", "legendX": 257, "legendY": 365, "direction": "horizontal", "title": null, "symbolType": "stroke", "symbolSize": 3025, "symbolStrokeWidth": 4, "labelFont": "Liberation Serif", "labelFontSize": 16, "labelColor": "black", "labelLimit": 0, "labelOffset": 17, "columnPadding": 10, "clipHeight": 22, "padding": 0}}
          }
        },
        {
          "data": {"name": "agents"},
          "mark": {"type": "circle", "size": 300, "stroke": "black", "strokeWidth": 1, "opacity": 1},
          "encoding": {
            "fill": {"field": "t", "type": "nominal",
              "scale": {"domain": ["informed agent", "uninformed agent"], "range": ["#ff0000", "#0000ff"]},
              "legend": {"orient": "none", "legendX": -40, "legendY": 365, "direction": "horizontal", "title": null, "symbolType": "circle", "symbolSize": 400, "symbolStrokeColor": "black", "symbolStrokeWidth": 1, "symbolOpacity": 1, "labelFont": "Liberation Serif", "labelFontSize": 16, "labelColor": "black", "labelLimit": 0, "labelOffset": 9, "columnPadding": 15, "clipHeight": 22, "padding": 0}}
          }
        },
        {
          "data": {"name": "agents"},
          "mark": {"type": "text", "color": "white", "fontWeight": "bold", "fontSize": 14, "font": "Liberation Sans", "align": "center", "baseline": "middle", "dy": 1},
          "encoding": {"text": {"field": "n", "type": "nominal"}}
        }
      ]
    },
    {
      "width": 1039,
      "height": 336,
      "title": {"text": "b", "anchor": "start", "frame": "group", "orient": "top", "offset": 0, "dx": -59, "dy": 73, "baseline": "alphabetic", "font": "Liberation Serif", "fontSize": 40, "fontWeight": "bold", "color": "black"},
      "data": {"name": "metrics"},
      "mark": {"type": "line", "strokeWidth": 1.8},
      "encoding": {
        "x": {"field": "t", "type": "quantitative", "scale": {"domain": [0, 58], "nice": false, "zero": false},
          "axis": {"title": "Times (s)", "values": [0,10,20,30,40,50], "format": "d", "labelFont": "Liberation Serif", "labelFontSize": 18, "labelColor": "#4d4d4d", "titleFont": "Liberation Serif", "titleFontSize": 20, "titleFontWeight": "normal", "titleColor": "#4d4d4d", "titlePadding": 4, "gridColor": "#e6e6e6", "domainColor": "#262626", "tickColor": "#262626", "tickSize": -6, "labelPadding": 15}},
        "y": {"field": "v", "type": "quantitative", "scale": {"domain": [-0.252, 1.498], "nice": false, "zero": false},
          "axis": {"title": "Metrics", "values": [-0.2,0,0.2,0.4,0.6,0.8,1,1.2,1.4], "format": "~g", "labelExpr": "replace(datum.label, '−', '-')", "labelFont": "Liberation Serif", "labelFontSize": 18, "labelColor": "#4d4d4d", "titleFont": "Liberation Serif", "titleFontSize": 20, "titleFontWeight": "normal", "titleColor": "#4d4d4d", "titlePadding": 4, "gridColor": "#e6e6e6", "domainColor": "#262626", "tickColor": "#262626", "tickSize": -6, "labelPadding": 15}},
        "color": {"field": "s", "type": "nominal", "sort": null,
          "scale": {"domain": ["Ψcoll", "Ψvel", "rmin (m)", "Ψobs", "Ψcorr", "rave(m)"], "range": ["#ffff00", "#000000", "#0000ff", "#00ffff", "#ff00ff", "#ff0000"]},
          "legend": {"orient": "none", "legendX": 722, "legendY": 414, "direction": "horizontal", "columns": 3, "title": null, "symbolType": "stroke", "symbolSize": 1369, "symbolStrokeWidth": 2, "labelFont": "Liberation Serif", "labelFontSize": 17, "labelColor": "black", "labelOffset": 4, "columnPadding": 4, "rowPadding": 2, "clipHeight": 20, "padding": 4, "strokeColor": "#262626", "fillColor": "white"}}
      }
    }
  ]
}
